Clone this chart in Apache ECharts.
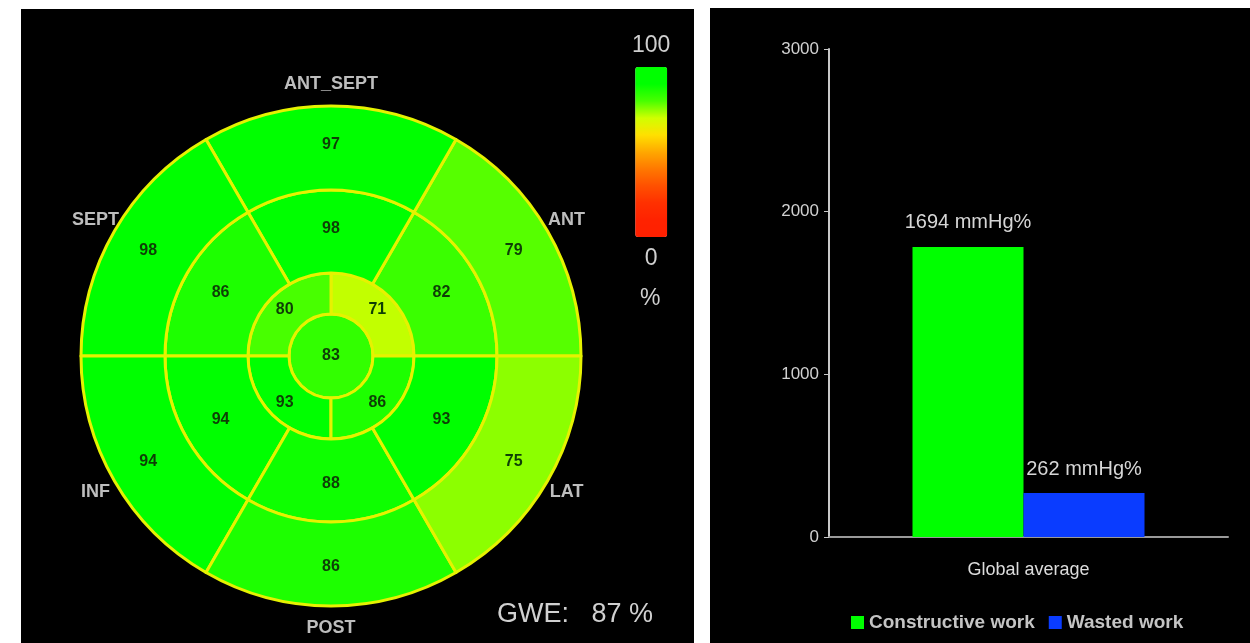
<!DOCTYPE html>
<html>
<head>
<meta charset="utf-8">
<title>Myocardial work bullseye</title>
<script src="https://cdn.jsdelivr.net/npm/echarts@6/dist/echarts.min.js"></script>
<style>
  body { margin: 0; background: #fff; }
  .panel { position: absolute; background: #000; }
  #main { position: absolute; left: 0; top: 0; width: 1250px; height: 643px; }
</style>
</head>
<body>
<div class="panel" style="left:21px;top:9px;width:673px;height:634px"></div>
<div class="panel" style="left:710px;top:8px;width:540px;height:635px"></div>
<div id="main"></div>
<script>
// bullseye segments, counter-clockwise starting at 3 o'clock
var basalNames = ['ANT', 'ANT_SEPT', 'SEPT', 'INF', 'POST', 'LAT'];
var basalValues = [79, 97, 98, 94, 86, 75];
var midValues = [82, 98, 86, 94, 88, 93];
var apicalValues = [71, 80, 93, 86];
var apexValues = [83];
var gweValue = 87;

// global work bars
var workCategories = ['Global average'];
var constructiveWork = [1783];
var wastedWork = [270];
var constructiveLabel = ['1694 mmHg%'];
var wastedLabel = ['262 mmHg%'];
var workTicks = [0, 1000, 2000, 3000];

var center = [331, 356];
var segBorder = '#e6f200';
var numColor = '#0e3f06';

function ring(values) {
    // every segment gets the same slice size, the score goes in dim 1
    return values.map(function (v) { return { value: [1, v] }; });
}

function ringSeries(values, radius, pos) {
    return {
        type: 'pie',
        center: center,
        radius: radius,
        startAngle: 0,
        clockwise: false,
        avoidLabelOverlap: false,
        emphasis: { disabled: true },
        itemStyle: { borderColor: segBorder, borderWidth: 3 },
        label: {
            show: true,
            position: pos,
            color: numColor,
            fontSize: 16,
            fontWeight: 'bold',
            textBorderWidth: 0,
            formatter: function (p) { return p.value[1]; }
        },
        labelLine: { show: false },
        data: ring(values)
    };
}

var chart = echarts.init(document.getElementById('main'));
chart.setOption({
    animation: false,
    backgroundColor: 'transparent',
    textStyle: { fontFamily: 'Liberation Sans, Arial, sans-serif' },
    visualMap: {
        type: 'continuous',
        min: 0,
        max: 100,
        dimension: 1,
        seriesIndex: [0, 1, 2, 3],
        calculable: false,
        orient: 'vertical',
        left: 617,
        top: 19,
        itemWidth: 32,
        itemHeight: 170,
        text: ['100', '0'],
        textGap: 10,
        textStyle: { color: '#cfcfcf', fontSize: 23 },
        inRange: {
            color: ['#ff2000', '#ff2200', '#ff3000', '#ff5000', '#ff7800', '#ffa800',
                '#ffe000', '#d0ff00', '#48ff00', '#00ff00', '#00ff00']
        }
    },
    legend: {
        data: ['Constructive work', 'Wasted work'],
        left: 846,
        top: 608,
        itemWidth: 13,
        itemHeight: 13,
        itemGap: 14,
        icon: 'rect',
        textStyle: { color: '#c4c4c4', fontSize: 19, fontWeight: 'bold' }
    },
    grid: { left: 829, right: 22, top: 49, bottom: 106 },
    xAxis: {
        type: 'category',
        data: workCategories,
        axisLine: { lineStyle: { color: '#9a9a9a', width: 2 } },
        axisTick: { show: false },
        axisLabel: { color: '#dcdcdc', fontSize: 18, margin: 24 }
    },
    yAxis: {
        type: 'value',
        min: workTicks[0],
        max: workTicks[workTicks.length - 1],
        interval: 1000,
        splitLine: { show: false },
        axisLine: { show: true, lineStyle: { color: '#c8c8c8', width: 2 } },
        axisTick: { show: true, length: 5, lineStyle: { color: '#c8c8c8' } },
        axisLabel: {
            color: '#d0d0d0',
            fontSize: 17,
            margin: 10,
            formatter: function (v) { return String(v); }
        }
    },
    graphic: [
        {
            type: 'text',
            left: 640,
            top: 287,
            style: { text: '%', fill: '#cfcfcf', fontSize: 23, fontFamily: 'Liberation Sans' }
        },
        {
            type: 'text',
            left: 497,
            top: 601,
            style: { text: 'GWE:   ' + gweValue + ' %', fill: '#d0d0d0', fontSize: 27, fontFamily: 'Liberation Sans' }
        }
    ],
    series: [
        ringSeries(apexValues, [0, 42], 'center'),
        ringSeries(apicalValues, [42, 83], 'inside'),
        ringSeries(midValues, [83, 166], 'inside'),
        ringSeries(basalValues, [166, 250], 'inside'),
        {
            // wall names around the outer ring
            type: 'pie',
            center: center,
            radius: [250, 288],
            startAngle: 0,
            clockwise: false,
            silent: true,
            emphasis: { disabled: true },
            itemStyle: { color: 'rgba(0,0,0,0)' },
            label: {
                show: true,
                position: 'inside',
                color: '#bdbdbd',
                fontSize: 18,
                fontWeight: 'bold',
                textBorderWidth: 0,
                formatter: '{b}'
            },
            labelLine: { show: false },
            data: basalNames.map(function (n) { return { name: n, value: 1 }; })
        },
        {
            name: 'Constructive work',
            type: 'bar',
            barWidth: 111,
            barGap: '0%',
            itemStyle: { color: '#00ff00' },
            label: {
                show: true,
                position: 'top',
                distance: 14,
                color: '#d6d6d6',
                fontSize: 20,
                formatter: function (p) { return constructiveLabel[p.dataIndex]; }
            },
            data: constructiveWork
        },
        {
            name: 'Wasted work',
            type: 'bar',
            barWidth: 121,
            barGap: '0%',
            itemStyle: { color: '#0a3cff' },
            label: {
                show: true,
                position: 'top',
                distance: 14,
                color: '#d6d6d6',
                fontSize: 20,
                formatter: function (p) { return wastedLabel[p.dataIndex]; }
            },
            data: wastedWork
        }
    ]
});
</script>
</body>
</html>
